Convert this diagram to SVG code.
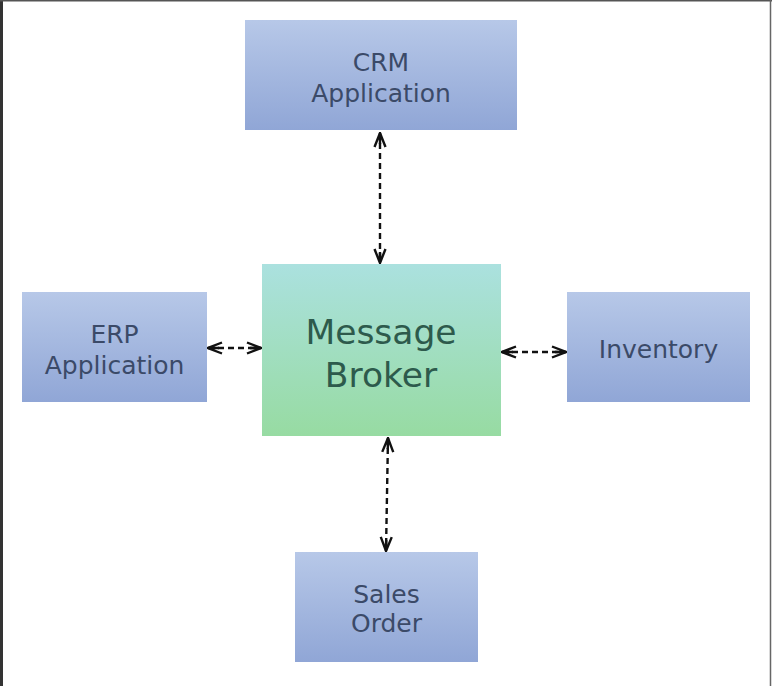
<svg xmlns="http://www.w3.org/2000/svg" width="772" height="686" viewBox="0 0 772 686">
<defs>
<linearGradient id="gBlue" x1="0" y1="0" x2="0" y2="1">
<stop offset="0" stop-color="#b7c8e8"/>
<stop offset="1" stop-color="#90a6d6"/>
</linearGradient>
<linearGradient id="gBroker" x1="0" y1="0" x2="0" y2="1">
<stop offset="0" stop-color="#abe1df"/>
<stop offset="1" stop-color="#97dba2"/>
</linearGradient>
<marker id="arr" markerUnits="userSpaceOnUse" viewBox="0 0 16 14" refX="15" refY="7" markerWidth="16" markerHeight="14" orient="auto-start-reverse">
<path d="M1,1.5 L15,7 L1,12.5 M4,7 L15,7" fill="none" stroke="#111" stroke-width="2.4" stroke-linejoin="miter"/>
</marker>
</defs>
<style>
.box{stroke:none}
.t{font-family:"DejaVu Sans",Verdana,sans-serif;font-size:25px;fill:#3b4a68;text-anchor:middle}
.tb{font-family:"DejaVu Sans",Verdana,sans-serif;font-size:34.5px;fill:#2d5a4c;text-anchor:middle}
.c{fill:none;stroke:#111;stroke-width:2.4;stroke-dasharray:6 4}
</style>
<rect width="772" height="686" fill="#ffffff"/>
<line x1="1.5" y1="0" x2="1.5" y2="686" stroke="#333" stroke-width="3"/>
<line x1="0" y1="0.75" x2="772" y2="0.75" stroke="#555" stroke-width="1.5"/>
<line x1="770.5" y1="0" x2="770.5" y2="686" stroke="#666" stroke-width="1.5"/>

<g id="connectors">
<line class="c" x1="380" y1="133" x2="380" y2="263" marker-start="url(#arr)" marker-end="url(#arr)"/>
<line class="c" x1="208" y1="348" x2="261" y2="348" marker-start="url(#arr)" marker-end="url(#arr)"/>
<line class="c" x1="502" y1="352" x2="566" y2="352" marker-start="url(#arr)" marker-end="url(#arr)"/>
<line class="c" x1="388" y1="438" x2="386" y2="551" marker-start="url(#arr)" marker-end="url(#arr)"/>
</g>

<g id="crm">
<rect class="box" x="245" y="20" width="272" height="110" fill="url(#gBlue)"/>
<text class="t" x="381" y="71">CRM</text>
<text class="t" x="381" y="102">Application</text>
</g>
<g id="erp">
<rect class="box" x="22" y="292" width="185" height="110" fill="url(#gBlue)"/>
<text class="t" x="114.5" y="343">ERP</text>
<text class="t" x="114.5" y="374">Application</text>
</g>
<g id="broker">
<rect class="box" x="262" y="264" width="239" height="172" fill="url(#gBroker)"/>
<text class="tb" x="381" y="344">Message</text>
<text class="tb" x="381" y="387">Broker</text>
</g>
<g id="inventory">
<rect class="box" x="567" y="292" width="183" height="110" fill="url(#gBlue)"/>
<text class="t" x="658.5" y="358">Inventory</text>
</g>
<g id="sales">
<rect class="box" x="295" y="552" width="183" height="110" fill="url(#gBlue)"/>
<text class="t" x="386.5" y="603">Sales</text>
<text class="t" x="386.5" y="632">Order</text>
</g>
</svg>
